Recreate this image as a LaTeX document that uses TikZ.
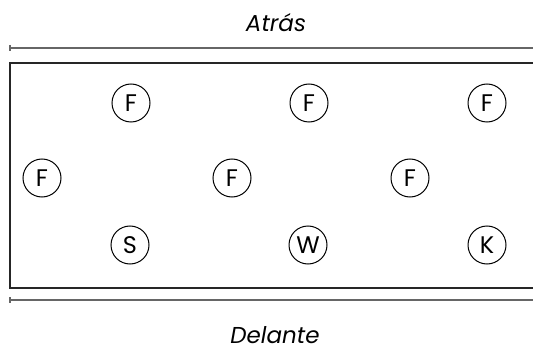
\documentclass[tikz,border=0pt]{standalone}
\usepackage{fontspec}
\setmainfont{Poppins}
\begin{document}
\begin{tikzpicture}[x=1pt,y=-1pt,
  player/.style={draw,circle,line width=1pt,minimum size=38pt,inner sep=0pt,font=\fontsize{24}{24}\selectfont},
  guide/.style={draw=black!60,line width=1.2pt},
  side/.style={font=\itshape\fontsize{23}{23}\selectfont}]
\useasboundingbox (0,0) rectangle (533,350);
\node[side,anchor=base] (atras) at (276,32) {Atrás};
\node[side,anchor=base] (delante) at (275,343) {Delante};
\coordinate (tl) at (10,48); \coordinate (tr) at (540,48);
\coordinate (bl) at (10,300); \coordinate (br) at (540,300);
\draw[guide] (tl) -- (tr);
\draw[guide] (bl) -- (br);
\draw[guide] (10,45) -- (10,51);
\draw[guide] (10,297) -- (10,303);
\draw[line width=1.6pt,black!85] (10,63) rectangle (545,288);
\node[player] (f1) at (131,103) {F};
\node[player] (f2) at (309,103) {F};
\node[player] (f3) at (487,103) {F};
\node[player] (f4) at (42,178) {F};
\node[player] (f5) at (232,178) {F};
\node[player] (f6) at (410,178) {F};
\node[player] (s) at (130,245) {S};
\node[player] (w) at (308,245) {W};
\node[player] (k) at (487,245) {K};
\end{tikzpicture}
\end{document}
